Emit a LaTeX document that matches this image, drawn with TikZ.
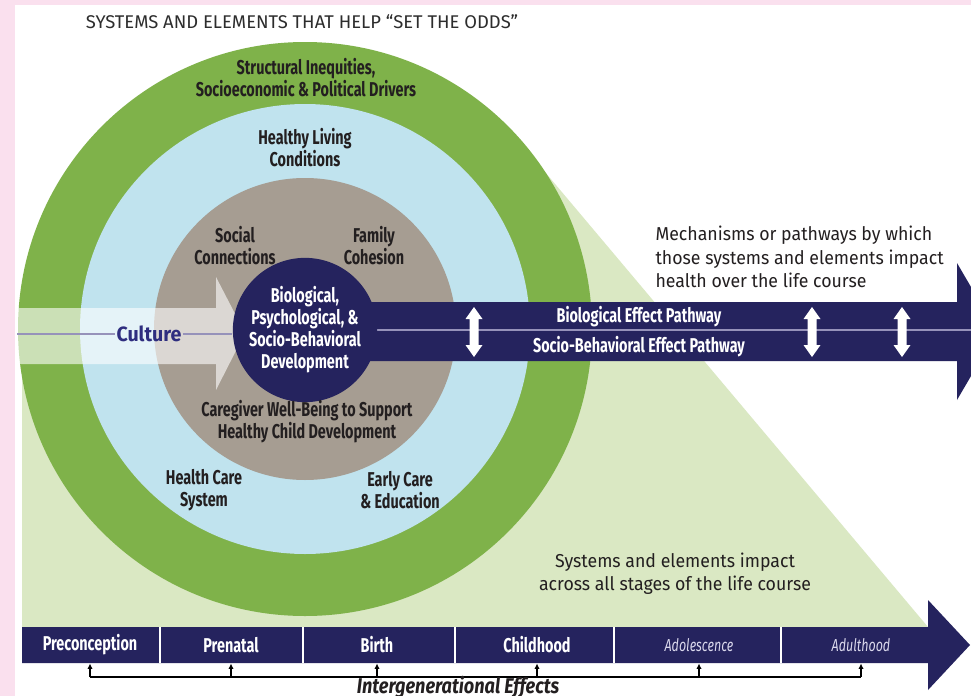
\documentclass[tikz,border=0pt]{standalone}
\usepackage{fontspec}
\setmainfont[FakeStretch=0.95]{Fira Sans}
\newfontfamily\condfont[FakeStretch=0.72]{Fira Sans}
\newfontfamily\semicondfont[FakeStretch=0.85]{Fira Sans}
\newfontfamily\titlefont{Fira Sans}
\usetikzlibrary{arrows.meta}

\definecolor{ringgreen}{RGB}{127,178,74}
\definecolor{ringblue}{RGB}{192,227,238}
\definecolor{ringtan}{RGB}{166,157,146}
\definecolor{navy}{RGB}{37,35,94}
\definecolor{wedgegreen}{RGB}{218,232,195}
\definecolor{pinkedge}{RGB}{250,224,238}
\definecolor{titlegray}{RGB}{45,45,45}
\definecolor{labeldark}{RGB}{35,31,32}
\definecolor{pathline}{RGB}{150,146,186}
\definecolor{culturenavy}{RGB}{46,45,127}
\definecolor{stagelight}{RGB}{218,216,236}

\tikzset{every picture/.style={line width=0.75pt}}
\tikzset{
  ringlabel/.style={font=\condfont\bfseries\fontsize{15}{16.5}\selectfont, text=labeldark, align=center, inner sep=0.75pt},
  corelabel/.style={ringlabel, text=white},
  notelabel/.style={font=\fontsize{14}{17.5}\selectfont, text=labeldark, inner sep=0.75pt},
  stagelabel/.style={font=\condfont\bfseries\fontsize{15}{16}\selectfont, text=white, inner sep=0.75pt, minimum height=27pt},
  stageitalic/.style={stagelabel, font=\condfont\itshape\fontsize{13}{16}\selectfont, text=stagelight},
  genarrow/.style={-{Latex[length=4pt,width=4pt]}, line width=1pt, black},
}

\begin{document}
\begin{tikzpicture}[x=0.75pt,y=0.75pt,yscale=-1,xscale=1]
\useasboundingbox (0,0) rectangle (971,696);
\clip (0,0) rectangle (971,696);

%Background
\fill[pinkedge] (0,0) rectangle (971,696);
\fill[white] (15,5) rectangle (971,696);

%Shape: Wedge behind the rings
\fill[wedgegreen] (22,329) -- (22,627) -- (928,627) -- (545,172) -- (305,329) -- cycle;

%Shape: Circles
\fill[ringgreen] (305,329) circle [radius=287];
\fill[ringblue] (305,329) circle [radius=225];
\fill[ringtan] (305,329) circle [radius=151];

%Shape: Culture band
\fill[white, opacity=0.6] (17,308) -- (216,308) -- (216,277) -- (245,333) -- (216,390) -- (216,364) -- (17,364) -- cycle;

%Shape: Pathway band
\fill[navy] (305,302) -- (957,302) -- (957,263) -- (997,331.5) -- (957,400) -- (957,361) -- (305,361) -- cycle;
\draw[pathline, line width=1.2pt] (373,330) -- (971,330);

%Shape: Core circle
\node (core) [circle, fill=navy, minimum size=93pt, inner sep=0pt, corelabel] at (305,330) {Biological,\\Psychological, \&\\Socio-Behavioral\\Development};

%Shape: Double Arrows
\fill[white] (474,307) -- (482.5,319) -- (478.5,319) -- (478.5,345) -- (482.5,345) -- (474,357) -- (465.5,345) -- (469.5,345) -- (469.5,319) -- (465.5,319) -- cycle;
\fill[white] (812,307) -- (820.5,319) -- (816.5,319) -- (816.5,345) -- (820.5,345) -- (812,357) -- (803.5,345) -- (807.5,345) -- (807.5,319) -- (803.5,319) -- cycle;
\fill[white] (902,307) -- (910.5,319) -- (906.5,319) -- (906.5,345) -- (910.5,345) -- (902,357) -- (893.5,345) -- (897.5,345) -- (897.5,319) -- (893.5,319) -- cycle;

% Text Node
\node (title) [font=\titlefont\fontsize{13.8}{16}\selectfont, text=titlegray, inner sep=0.75pt] at (302,22) {SYSTEMS AND ELEMENTS THAT HELP “SET THE ODDS”};
% Text Node
\node (structural) [ringlabel] at (306,78) {Structural Inequities,\\Socioeconomic \& Political Drivers};
% Text Node
\node (living) [ringlabel] at (305,148) {Healthy Living\\Conditions};
% Text Node
\node (social) [ringlabel] at (235,246) {Social\\Connections};
% Text Node
\node (family) [ringlabel] at (374,246) {Family\\Cohesion};
% Text Node
\node (caregiver) [ringlabel] at (307,422) {Caregiver Well-Being to Support\\Healthy Child Development};
% Text Node
\node (healthcare) [ringlabel] at (204,490) {Health Care\\System};
% Text Node
\node (earlycare) [ringlabel] at (400,490) {Early Care\\\& Education};
% Text Node
\node (culture) [font=\bfseries\fontsize{15.5}{17}\selectfont, text=culturenavy, inner sep=0.75pt] at (149,334) {Culture};
\coordinate (cultstart) at (17,334);
\draw[pathline, line width=1pt] (cultstart) -- (culture.west);
\draw[pathline, line width=1pt] (culture.east) -- (culture.east -| core.west);
% Text Node
\node (biopath) [corelabel] at (639,317) {Biological Effect Pathway};
% Text Node
\node (sociopath) [corelabel] at (639,347) {Socio-Behavioral Effect Pathway};
% Text Node
\node (mechanisms) [notelabel, anchor=west, align=left] at (654,257) {Mechanisms or pathways by which\\those systems and elements impact\\health over the life course};
% Text Node
\node (stages) [notelabel, align=center] at (675,574) {Systems and elements impact\\across all stages of the life course};

%Shape: Life course bar
\fill[navy] (22,627) -- (928,627) -- (928,600) -- (970,645) -- (928,690) -- (928,663) -- (22,663) -- cycle;
\draw[white, line width=1.5pt] (160,627) -- (160,663);
\draw[white, line width=1.5pt] (303,627) -- (303,663);
\draw[white, line width=1.5pt] (455,627) -- (455,663);
\draw[white, line width=1.5pt] (614,627) -- (614,663);
\draw[white, line width=1.5pt] (781,627) -- (781,663);

% Text Node
\node (precon) [stagelabel] at (90,645) {Preconception};
% Text Node
\node (prenatal) [stagelabel] at (231,645) {Prenatal};
% Text Node
\node (birth) [stagelabel] at (377,645) {Birth};
% Text Node
\node (childhood) [stagelabel] at (537,645) {Childhood};
% Text Node
\node (adolescence) [stageitalic] at (699,645) {Adolescence};
% Text Node
\node (adulthood) [stageitalic] at (861,645) {Adulthood};

%Straight Lines
\coordinate (gen1) at (precon.south |- 0,677);
\coordinate (gen6) at (adulthood.south |- 0,677);
\draw[line width=1pt] (gen1) -- (gen6);
\draw[genarrow] (gen1) -- (precon.south);
\draw[genarrow] (prenatal.south |- gen1) -- (prenatal.south);
\draw[genarrow] (birth.south |- gen1) -- (birth.south);
\draw[genarrow] (childhood.south |- gen1) -- (childhood.south);
\draw[genarrow] (adolescence.south |- gen1) -- (adolescence.south);
\draw[genarrow] (gen6) -- (adulthood.south);

% Text Node
\node (intergen) [font=\semicondfont\bfseries\itshape\fontsize{16}{18}\selectfont, text=labeldark, inner sep=0.75pt] at (458,687) {Intergenerational Effects};

\end{tikzpicture}
\end{document}
